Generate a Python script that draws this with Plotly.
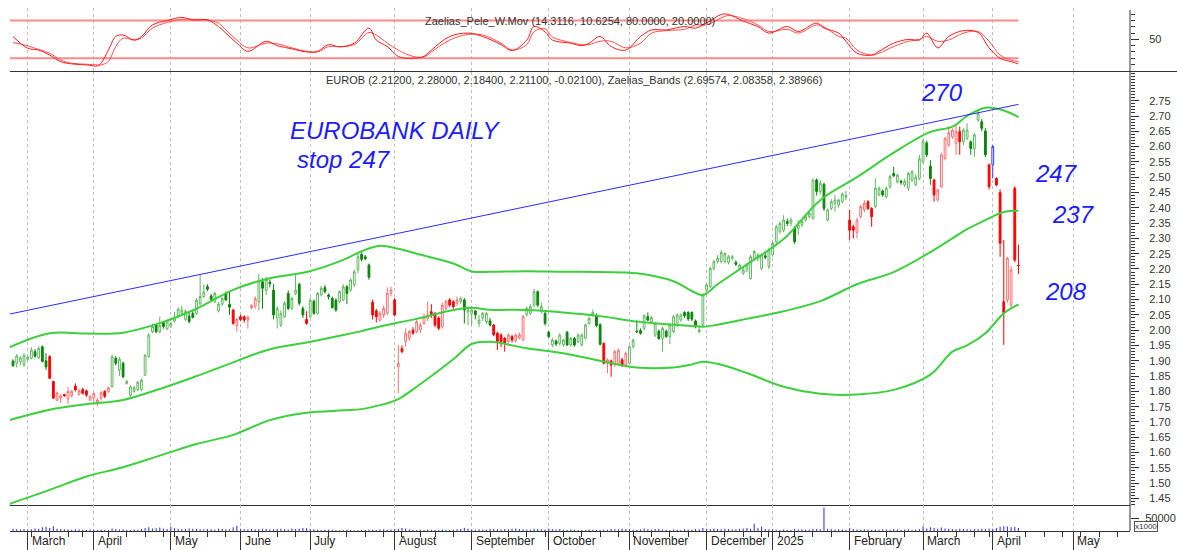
import pandas as pd
import plotly.graph_objects as go

# ---------------- calendar ----------------
first_day = "2024-02-26"
last_day = "2025-04-10"
future_end = "2025-06-30"
closed_days = ["2024-03-18", "2024-03-25", "2024-03-29", "2024-04-01", "2024-05-01",
               "2024-05-03", "2024-05-06", "2024-05-31", "2024-06-24", "2024-08-15",
               "2024-10-28", "2024-12-24", "2024-12-25", "2024-12-26", "2024-12-31",
               "2025-01-01", "2025-01-06", "2025-03-03", "2025-03-25"]
month_names = {1: "2025", 2: "February", 3: "March", 4: "April", 5: "May", 6: "June",
               7: "July", 8: "August", 9: "September", 10: "October",
               11: "November", 12: "December"}

# ---------------- EUROB daily prices ----------------
opens = [
    1.899, 1.892, 1.897, 1.886,
    1.905, 1.908, 1.930, 1.910, 1.946, 1.900, 1.914, 1.832, 1.771, 1.778, 1.790, 1.775, 1.786, 1.817, 1.790, 1.806, 1.802, 1.772,
    1.778, 1.762, 1.778, 1.800, 1.800, 1.816, 1.908, 1.870, 1.892, 1.826, 1.787, 1.800, 1.806, 1.806, 1.853, 1.914, 1.995, 2.017, 1.995, 2.025, 2.005,
    2.012, 2.030, 2.044, 2.055, 2.035, 2.046, 2.055, 2.055, 2.086, 2.110, 2.142, 2.112, 2.093, 2.063, 2.085, 2.120, 2.085, 2.066, 2.015,
    2.044, 2.044, 2.033, 2.073, 2.078, 2.093, 2.158, 2.130, 2.157, 2.131, 2.040, 2.017, 2.044, 2.120, 2.071, 2.120, 2.150, 2.071, 2.035,
    2.044, 2.095, 2.055, 2.115, 2.139, 2.115, 2.104, 2.098, 2.093, 2.099, 2.142, 2.131, 2.148, 2.197, 2.248, 2.240, 2.213, 2.091, 2.063, 2.033, 2.050, 2.055, 2.120,
    2.099, 1.881, 1.940, 1.963, 1.974, 2.000, 1.995, 2.001, 2.022, 2.039, 2.060, 2.055, 2.040, 2.011, 2.071, 2.099, 2.093, 2.088, 2.093, 2.099, 2.060,
    2.055, 2.063, 2.022, 2.040, 2.028, 2.030, 2.017, 1.990, 1.984, 1.973, 1.963, 1.979, 1.965, 1.975, 1.968, 2.050, 2.055, 2.082, 2.126, 2.061, 2.055,
    1.993, 1.952, 1.965, 1.957, 1.952, 1.993, 1.952, 1.973, 1.963, 1.952, 1.974, 2.022, 2.048, 2.048, 2.019, 1.957, 1.892, 1.899, 1.892, 1.892, 1.903, 1.886,
    1.892, 1.946, 1.997, 1.999, 2.006, 2.044, 2.028, 1.984, 1.997, 1.973, 1.997, 1.979, 1.995, 2.017, 2.033, 2.058, 2.058, 2.058, 2.030, 1.995, 2.017,
    2.131, 2.142, 2.202, 2.224, 2.224, 2.224, 2.222, 2.235, 2.222, 2.202, 2.186, 2.197, 2.169, 2.235, 2.235, 2.202, 2.243, 2.208,
    2.246, 2.289, 2.322, 2.327, 2.355, 2.349, 2.333, 2.333, 2.344, 2.360, 2.371, 2.366, 2.491, 2.453, 2.477, 2.360, 2.398, 2.415, 2.409, 2.420, 2.435,
    2.360, 2.338, 2.320, 2.371, 2.393, 2.420, 2.398, 2.404, 2.442, 2.455, 2.436, 2.469, 2.512, 2.485, 2.487, 2.475, 2.464, 2.490, 2.475, 2.496,
    2.550, 2.612, 2.536, 2.491, 2.426, 2.469, 2.562, 2.605, 2.632, 2.611, 2.649, 2.616, 2.627, 2.616, 2.594, 2.687, 2.681, 2.651, 2.540,
    2.540, 2.496, 2.450, 2.093, 2.099, 2.082, 2.464, 2.212,
]
highs = [
    1.905, 1.922, 1.915, 1.925,
    1.917, 1.945, 1.938, 1.948, 1.950, 1.925, 1.918, 1.835, 1.800, 1.790, 1.792, 1.815, 1.805, 1.826, 1.808, 1.812, 1.806, 1.788,
    1.797, 1.778, 1.800, 1.804, 1.816, 1.920, 1.915, 1.912, 1.897, 1.838, 1.820, 1.818, 1.834, 1.842, 1.922, 1.990, 2.022, 2.020, 2.045, 2.030, 2.035,
    2.028, 2.060, 2.075, 2.080, 2.068, 2.060, 2.064, 2.105, 2.180, 2.150, 2.150, 2.118, 2.126, 2.092, 2.110, 2.126, 2.125, 2.070, 2.040,
    2.050, 2.048, 2.048, 2.085, 2.110, 2.185, 2.170, 2.175, 2.165, 2.150, 2.080, 2.065, 2.095, 2.130, 2.110, 2.180, 2.155, 2.078, 2.062,
    2.106, 2.100, 2.125, 2.145, 2.148, 2.120, 2.110, 2.104, 2.130, 2.150, 2.148, 2.170, 2.198, 2.256, 2.255, 2.246, 2.218, 2.100, 2.070, 2.062, 2.080, 2.140, 2.142,
    2.105, 1.952, 1.950, 2.006, 2.000, 2.010, 2.035, 2.025, 2.055, 2.093, 2.085, 2.060, 2.045, 2.090, 2.100, 2.105, 2.098, 2.110, 2.110, 2.105, 2.075,
    2.077, 2.066, 2.050, 2.060, 2.060, 2.040, 2.020, 1.995, 1.990, 1.978, 1.990, 1.985, 1.990, 1.992, 2.050, 2.078, 2.085, 2.135, 2.130, 2.090, 2.060,
    1.998, 1.975, 1.970, 1.990, 1.972, 1.998, 1.978, 1.978, 1.990, 1.990, 2.022, 2.045, 2.068, 2.055, 2.022, 1.960, 1.908, 1.904, 1.936, 1.940, 1.910, 1.930,
    1.950, 1.972, 2.034, 2.006, 2.052, 2.058, 2.047, 2.028, 2.002, 2.012, 2.002, 2.022, 2.050, 2.055, 2.055, 2.062, 2.062, 2.062, 2.035, 2.012, 2.120,
    2.152, 2.208, 2.230, 2.245, 2.262, 2.255, 2.246, 2.246, 2.228, 2.218, 2.205, 2.220, 2.246, 2.262, 2.252, 2.250, 2.252, 2.270,
    2.290, 2.345, 2.356, 2.376, 2.365, 2.368, 2.340, 2.360, 2.362, 2.378, 2.390, 2.496, 2.496, 2.490, 2.482, 2.398, 2.428, 2.442, 2.430, 2.450, 2.455,
    2.393, 2.345, 2.368, 2.410, 2.425, 2.425, 2.402, 2.496, 2.470, 2.460, 2.470, 2.508, 2.534, 2.512, 2.492, 2.495, 2.518, 2.523, 2.510, 2.573,
    2.625, 2.620, 2.556, 2.495, 2.462, 2.580, 2.632, 2.665, 2.660, 2.670, 2.665, 2.660, 2.676, 2.620, 2.645, 2.720, 2.690, 2.660, 2.545,
    2.605, 2.500, 2.460, 2.295, 2.240, 2.210, 2.470, 2.280,
]
lows = [
    1.880, 1.878, 1.885, 1.880,
    1.900, 1.905, 1.910, 1.905, 1.895, 1.870, 1.840, 1.775, 1.768, 1.762, 1.782, 1.758, 1.780, 1.800, 1.786, 1.790, 1.782, 1.768,
    1.765, 1.752, 1.770, 1.778, 1.795, 1.812, 1.885, 1.850, 1.843, 1.822, 1.782, 1.795, 1.800, 1.800, 1.850, 1.910, 1.990, 1.990, 1.990, 2.005, 2.000,
    2.008, 2.025, 2.040, 2.050, 2.030, 2.022, 2.038, 2.050, 2.082, 2.105, 2.128, 2.095, 2.088, 2.058, 2.080, 2.095, 2.050, 2.018, 1.995,
    2.030, 2.025, 2.005, 2.068, 2.070, 2.065, 2.070, 2.115, 2.140, 2.035, 2.006, 2.010, 2.040, 2.065, 2.065, 2.115, 2.080, 2.040, 2.018,
    2.040, 2.050, 2.050, 2.110, 2.120, 2.100, 2.070, 2.060, 2.088, 2.095, 2.085, 2.125, 2.140, 2.186, 2.225, 2.228, 2.165, 2.035, 2.025, 2.028, 2.040, 2.050, 2.110,
    2.045, 1.794, 1.925, 1.946, 1.965, 1.985, 1.990, 1.990, 2.018, 2.030, 2.040, 2.010, 2.000, 2.005, 2.065, 2.075, 2.070, 2.080, 2.085, 2.022, 2.017,
    2.017, 2.035, 2.010, 2.030, 2.020, 2.012, 1.980, 1.935, 1.945, 1.930, 1.955, 1.960, 1.960, 1.970, 1.965, 2.045, 2.050, 2.075, 2.075, 2.055, 2.015,
    1.975, 1.945, 1.948, 1.950, 1.946, 1.948, 1.946, 1.946, 1.958, 1.946, 1.970, 2.018, 2.044, 2.010, 1.950, 1.888, 1.859, 1.848, 1.880, 1.886, 1.880, 1.880,
    1.888, 1.940, 1.990, 1.985, 2.000, 2.028, 2.022, 1.978, 1.968, 1.930, 1.975, 1.955, 1.990, 2.010, 2.028, 2.040, 2.030, 2.030, 2.006, 1.990, 2.012,
    2.125, 2.138, 2.195, 2.218, 2.218, 2.218, 2.215, 2.228, 2.210, 2.198, 2.180, 2.190, 2.165, 2.230, 2.225, 2.195, 2.232, 2.200,
    2.240, 2.282, 2.315, 2.320, 2.340, 2.340, 2.282, 2.311, 2.338, 2.355, 2.365, 2.360, 2.440, 2.445, 2.390, 2.355, 2.392, 2.387, 2.400, 2.415, 2.425,
    2.295, 2.300, 2.300, 2.365, 2.385, 2.393, 2.338, 2.398, 2.438, 2.436, 2.430, 2.462, 2.500, 2.480, 2.475, 2.468, 2.455, 2.485, 2.470, 2.490,
    2.545, 2.565, 2.475, 2.420, 2.420, 2.465, 2.555, 2.600, 2.625, 2.573, 2.573, 2.605, 2.620, 2.573, 2.567, 2.680, 2.650, 2.565, 2.460,
    2.496, 2.470, 2.240, 1.952, 2.090, 2.075, 2.222, 2.184,
]
closes = [
    1.884, 1.916, 1.910, 1.918,
    1.912, 1.935, 1.915, 1.940, 1.898, 1.880, 1.843, 1.778, 1.795, 1.785, 1.786, 1.800, 1.800, 1.805, 1.802, 1.794, 1.788, 1.783,
    1.793, 1.772, 1.796, 1.784, 1.812, 1.913, 1.892, 1.905, 1.848, 1.832, 1.815, 1.812, 1.830, 1.837, 1.918, 1.984, 2.012, 1.995, 2.015, 2.012, 2.030,
    2.022, 2.040, 2.068, 2.066, 2.062, 2.028, 2.042, 2.098, 2.110, 2.125, 2.134, 2.101, 2.120, 2.085, 2.104, 2.099, 2.075, 2.022, 2.035,
    2.035, 2.033, 2.042, 2.080, 2.104, 2.164, 2.137, 2.165, 2.152, 2.050, 2.071, 2.055, 2.088, 2.071, 2.104, 2.131, 2.088, 2.050, 2.022,
    2.098, 2.055, 2.120, 2.137, 2.126, 2.110, 2.074, 2.066, 2.126, 2.142, 2.120, 2.164, 2.191, 2.240, 2.232, 2.234, 2.173, 2.050, 2.044, 2.055, 2.071, 2.120, 2.131,
    2.050, 1.892, 1.930, 1.990, 1.996, 1.990, 2.028, 2.017, 2.044, 2.050, 2.048, 2.017, 2.006, 2.082, 2.093, 2.082, 2.077, 2.099, 2.104, 2.066, 2.066,
    2.066, 2.050, 2.033, 2.055, 2.055, 2.017, 1.985, 1.963, 1.963, 1.957, 1.984, 1.968, 1.984, 1.985, 2.044, 2.071, 2.077, 2.126, 2.082, 2.077, 2.022,
    1.979, 1.968, 1.955, 1.984, 1.968, 1.952, 1.973, 1.952, 1.984, 1.984, 2.017, 2.039, 2.058, 2.015, 1.954, 1.892, 1.903, 1.886, 1.930, 1.935, 1.886, 1.925,
    1.946, 1.968, 1.995, 1.990, 2.047, 2.033, 2.041, 2.022, 1.973, 2.006, 1.979, 2.017, 2.044, 2.050, 2.050, 2.047, 2.037, 2.036, 2.011, 2.001, 2.115,
    2.148, 2.202, 2.224, 2.235, 2.254, 2.250, 2.240, 2.240, 2.215, 2.213, 2.197, 2.213, 2.240, 2.257, 2.246, 2.246, 2.238, 2.262,
    2.284, 2.338, 2.349, 2.360, 2.349, 2.360, 2.289, 2.344, 2.355, 2.371, 2.382, 2.491, 2.453, 2.480, 2.398, 2.393, 2.420, 2.426, 2.425, 2.445, 2.440,
    2.327, 2.327, 2.360, 2.404, 2.415, 2.398, 2.371, 2.464, 2.464, 2.442, 2.464, 2.502, 2.505, 2.507, 2.483, 2.487, 2.512, 2.518, 2.500, 2.560,
    2.616, 2.573, 2.496, 2.442, 2.458, 2.573, 2.627, 2.645, 2.654, 2.649, 2.616, 2.654, 2.654, 2.594, 2.638, 2.709, 2.660, 2.573, 2.469,
    2.600, 2.475, 2.284, 2.058, 2.235, 2.197, 2.229, 2.211,
]
# candle colour state of the indicator: G = green, R = red, B = blue
regime = ("GGGG" + "GGGGGG" + "R" * 12 + "RRRRR" + "G" * 16 + "G" * 17 + "RR"
          + "RRRRR" + "G" * 13 + "R" + "G" * 17 + "R" * 6 + "R" * 18 + "GGG"
          + "G" * 6 + "R" * 9 + "G" * 6 + "G" * 15 + "R" * 7 + "G" * 21 + "G" * 18
          + "G" * 21 + "R" * 7 + "G" * 13 + "GGG" + "R" * 8 + "G" * 7 + "R"
          + "B" + "R" * 7)
# volume in millions of shares
volume_mln = [
    9, 7, 6, 8,
    5, 7, 10, 9, 14, 16, 12, 18, 9, 8, 7, 6, 5, 7, 6, 5, 4, 6,
    5, 4, 6, 5, 4, 10, 8, 6, 7, 5, 4, 6, 5, 8, 12, 14, 10, 11, 13, 9, 8,
    16, 11, 9, 7, 8, 10, 9, 8, 7, 6, 8, 7, 6, 9, 8, 7, 6, 14, 20,
    9, 7, 6, 8, 6, 7, 9, 8, 6, 7, 8, 9, 7, 6, 10, 8, 9, 12, 11,
    8, 7, 5, 4, 5, 6, 5, 4, 3, 4, 5, 4, 3, 4, 5, 4, 6, 5, 4, 6, 7, 5, 6,
    8, 9, 12, 10, 6, 5, 4, 5, 4, 6, 5, 4, 5, 6, 5, 4, 6, 7, 8, 12, 9,
    6, 5, 7, 6, 5, 8, 9, 7, 6, 8, 7, 9, 10, 8, 7, 6, 5, 9, 8, 7, 6,
    10, 7, 6, 8, 5, 4, 6, 5, 4, 5, 4, 6, 5, 4, 5, 6, 5, 8, 7, 6, 9, 8,
    6, 5, 4, 6, 10, 7, 5, 8, 9, 6, 5, 4, 6, 5, 4, 7, 6, 5, 8, 7, 12,
    9, 8, 10, 8, 7, 9, 8, 6, 7, 9, 10, 12, 9, 28, 11, 17, 8, 7,
    6, 5, 4, 6, 5, 4, 8, 6, 7, 5, 6, 9, 8, 7, 90, 9, 8, 6, 7, 6, 5,
    12, 8, 6, 5, 7, 6, 5, 6, 5, 7, 6, 5, 8, 6, 5, 6, 7, 5, 6, 8,
    18, 10, 14, 12, 9, 13, 10, 9, 8, 7, 9, 8, 7, 6, 8, 7, 9, 8, 10,
    9, 12, 16, 18, 17, 14, 16, 12,
]

# ---------------- Zaelias_Bands (sampled at bar numbers) ----------------
band_idx = [-1, 10, 20, 30, 40, 50, 60, 70, 80, 90, 95, 100, 105, 110, 120, 125, 130, 140,
            150, 160, 170, 180, 185, 188, 192, 200, 210, 220, 230, 240, 250, 256, 260, 265, 270, 274]
band_upper = [1.944, 1.990, 1.989, 1.992, 2.023, 2.070, 2.132, 2.170, 2.190, 2.230, 2.258, 2.276,
              2.266, 2.250, 2.218, 2.192, 2.191, 2.193, 2.191, 2.190, 2.186, 2.160, 2.128, 2.115,
              2.150, 2.215, 2.298, 2.425, 2.500, 2.580, 2.648, 2.665, 2.700, 2.727, 2.718, 2.696]
band_mid = [1.706, 1.740, 1.758, 1.772, 1.808, 1.850, 1.895, 1.938, 1.960, 1.984, 1.997, 2.012,
            2.025, 2.037, 2.066, 2.073, 2.067, 2.066, 2.058, 2.046, 2.028, 2.018, 2.014, 2.011,
            2.018, 2.037, 2.062, 2.095, 2.150, 2.190, 2.255, 2.300, 2.330, 2.360, 2.386, 2.390]
band_lower = [1.432, 1.478, 1.522, 1.552, 1.590, 1.628, 1.658, 1.706, 1.730, 1.738, 1.742, 1.755,
              1.775, 1.815, 1.905, 1.955, 1.962, 1.941, 1.925, 1.900, 1.878, 1.878, 1.888, 1.897,
              1.890, 1.860, 1.815, 1.792, 1.790, 1.805, 1.855, 1.930, 1.950, 1.990, 2.055, 2.084]

# trend line (value at left edge, value at last bar)
trend_vals = [2.053, 2.738]

# ---------------- Zaelias_Pele_W.Mov oscillator ----------------
osc_idx = [0, 4, 7, 10, 13, 16, 20, 23, 24, 26, 28, 30, 33, 35, 38, 42, 46, 49, 53, 56, 58, 61,
           64, 69, 72, 76, 80, 83, 86, 89, 93, 97, 99, 102, 105, 109, 112, 114, 119, 124, 128,
           133, 136, 140, 142, 145, 147, 152, 155, 157, 160, 163, 167, 171, 174, 178, 183, 186,
           189, 193, 195, 199, 203, 206, 211, 214, 219, 221, 225, 227, 230, 234, 236, 240, 244,
           247, 249, 252, 255, 259, 263, 266, 269, 272, 274]
osc_fast = [54.6, 35.9, 33, 25, 14.5, 11, 9.4, 7.8, 12, 33, 54.6, 57, 49, 54.6, 73, 80, 85, 81,
            81, 70.5, 60, 44, 31, 47, 40, 35, 30, 31, 41.7, 38, 44, 68, 49, 38.6, 22.7, 20, 23,
            33, 54.6, 60, 54.6, 41.7, 32.2, 49, 70.5, 62, 49, 44, 40, 44, 54.6, 38.6, 33, 54.6,
            65, 65, 70.5, 68, 76, 89.7, 89.7, 79, 70.5, 60, 70.5, 62.5, 76, 68, 60, 47, 28, 25,
            31, 44, 50, 49, 60, 36.5, 54.6, 64, 61, 36.5, 20, 14.5, 11]
osc_slow = [45, 39.8, 34, 28, 17, 12, 10.5, 9.4, 9.4, 15, 38.6, 52, 49, 52, 68, 77, 82, 82, 81,
            76, 65, 49, 36.5, 44, 43, 36.5, 31, 30, 38.6, 38.6, 41.7, 61, 57, 44, 33, 23, 22, 30,
            49, 58, 57, 44, 33, 41.7, 62.5, 67, 54, 45, 41.7, 41.7, 47, 47, 36.5, 44, 60, 64, 66,
            73, 73, 84.3, 88, 83, 73, 62.5, 66, 60, 73, 70, 54.6, 52, 33, 25, 28, 38.6, 47, 50,
            54.6, 47, 49, 60, 62.5, 47, 25, 17, 14.5]
osc_levels = [80, 20]

osc_title = "Zaelias_Pele_W.Mov (14.3116, 10.6254, 80.0000, 20.0000)"
price_title = ("EUROB (2.21200, 2.28000, 2.18400, 2.21100, -0.02100), "
               "Zaelias_Bands (2.69574, 2.08358, 2.38966)")
notes = ["EUROBANK DAILY", "stop 247", "270", "247", "237", "208"]

# ---------------- derived positions ----------------
closed = set(closed_days)
dates = [d for d in pd.bdate_range(first_day, last_day) if d.strftime("%Y-%m-%d") not in closed]
future = list(pd.bdate_range(pd.Timestamp(last_day) + pd.Timedelta(days=1), future_end))
all_dates = dates + future
n = len(dates)
assert n == len(opens) == len(highs) == len(lows) == len(closes) == len(regime) == len(volume_mln), \
    (n, len(opens), len(highs), len(lows), len(closes), len(regime), len(volume_mln))

x_lo, x_hi = -0.82, 304.4
month_idx, month_txt, week_idx = [], [], []
for i in range(1, len(all_dates)):
    if all_dates[i].month != all_dates[i - 1].month and i <= x_hi:
        month_idx.append(i)
        month_txt.append(month_names[all_dates[i].month])
    if all_dates[i].isocalendar()[1] != all_dates[i - 1].isocalendar()[1] and i <= x_hi:
        week_idx.append(i)

# pixel helpers for the layout (plot area 10..1130 x 8..531)
def px_x(px):
    return (px - 10) / 1120.0


def px_y(py):
    return (531 - py) / 523.0


osc_dom = [px_y(70.8), 1.0]
main_dom = [px_y(505), px_y(72)]
vol_dom = [0.0, px_y(505)]

fig = go.Figure()

# ---- oscillator panel ----
for lv in osc_levels:
    fig.add_trace(go.Scatter(x=[x_lo, n - 1], y=[lv, lv], mode="lines",
                             line=dict(color="#ff8a8a", width=2), xaxis="x", yaxis="y",
                             hoverinfo="skip"))
fig.add_trace(go.Scatter(x=osc_idx, y=osc_slow, mode="lines", line=dict(color="#ff5050", width=1),
                         line_shape="spline", xaxis="x", yaxis="y", hoverinfo="skip"))
fig.add_trace(go.Scatter(x=osc_idx, y=osc_fast, mode="lines", line=dict(color="#ff1a1a", width=1),
                         line_shape="spline", xaxis="x", yaxis="y", hoverinfo="skip"))

# ---- candles ----
styles = {
    "G": (("#62b862", "white"), ("#0b850b", "#0b850b")),
    "R": (("#ff7070", "white"), ("#ff0000", "#ff0000")),
    "B": (("#3a3aff", "white"), ("#3a3aff", "#3a3aff")),
}
for code, ((inc_c, inc_f), (dec_c, dec_f)) in styles.items():
    sel = [i for i in range(n) if regime[i] == code]
    fig.add_trace(go.Candlestick(
        x=sel, open=[opens[i] for i in sel], high=[highs[i] for i in sel],
        low=[lows[i] for i in sel], close=[closes[i] for i in sel],
        increasing=dict(line=dict(color=inc_c, width=1), fillcolor=inc_f),
        decreasing=dict(line=dict(color=dec_c, width=1), fillcolor=dec_f),
        whiskerwidth=0, xaxis="x2", yaxis="y2", hoverinfo="skip"))

# ---- bands & trend ----
for vals in (band_upper, band_mid, band_lower):
    fig.add_trace(go.Scatter(x=band_idx, y=vals, mode="lines", line=dict(color="#3ecf3e", width=2),
                             line_shape="spline", xaxis="x2", yaxis="y2", hoverinfo="skip"))
fig.add_trace(go.Scatter(x=[x_lo, n - 1], y=trend_vals, mode="lines",
                         line=dict(color="#2a2aff", width=1), xaxis="x2", yaxis="y2",
                         hoverinfo="skip"))

# ---- volume ----
fig.add_trace(go.Bar(x=list(range(n)), y=[v * 1000 for v in volume_mln], width=0.3,
                     marker=dict(color="#3c3cff", line=dict(width=0)), xaxis="x3", yaxis="y3",
                     hoverinfo="skip"))

xcommon = dict(range=[x_lo, x_hi], showgrid=True, gridcolor="#bdbdbd", griddash="3px,3px",
               gridwidth=1, tickmode="array", tickvals=month_idx, showticklabels=False,
               zeroline=False, rangeslider=dict(visible=False), fixedrange=True, automargin=False)
tickfont = dict(family="Liberation Sans, Arial, sans-serif", size=11, color="#333")

price_ticks = [round(1.45 + 0.05 * k, 2) for k in range(27)]
price_minor = [round(1.43 + 0.01 * k, 2) for k in range(142)]

fig.update_layout(
    width=1177, height=550, margin=dict(l=10, r=47, t=8, b=19, autoexpand=False),
    paper_bgcolor="white", plot_bgcolor="white", showlegend=False, hovermode=False,
    font=tickfont,
    xaxis=dict(xcommon, anchor="y", ticks=""),
    xaxis2=dict(xcommon, anchor="y2", ticks="", showline=True, linecolor="#333", linewidth=1),
    xaxis3=dict(xcommon, anchor="y3", ticks="outside", ticklen=19, tickcolor="#333",
                showline=True, linecolor="#333", linewidth=1,
                minor=dict(tickvals=week_idx, ticks="outside", ticklen=5, tickcolor="#333",
                           showgrid=False)),
    yaxis=dict(domain=osc_dom, anchor="x", side="right", range=[0, 100], tickmode="array",
               tickvals=[50], ticks="outside", ticklen=8, tickcolor="#333", showgrid=False,
               zeroline=False, ticklabelstandoff=8, tickfont=tickfont, fixedrange=True,
               automargin=False,
               minor=dict(tickvals=[10, 20, 30, 40, 60, 70, 80, 90], ticks="outside", ticklen=4,
                          tickcolor="#333")),
    yaxis2=dict(domain=main_dom, anchor="x2", side="right", range=[1.4287, 2.8438],
                tickmode="array", tickvals=price_ticks, ticktext=[f"{v:.2f}" for v in price_ticks],
                ticks="outside", ticklen=8, tickcolor="#333", showgrid=False, zeroline=False,
                ticklabelstandoff=8, tickfont=tickfont, fixedrange=True, automargin=False,
                minor=dict(tickvals=price_minor, ticks="outside", ticklen=4, tickcolor="#333")),
    yaxis3=dict(domain=vol_dom, anchor="x3", side="right", range=[0, 100000], tickmode="array",
                tickvals=[50000], ticktext=["50000"], ticks="outside", ticklen=8,
                tickcolor="#333", showgrid=False, zeroline=False, ticklabelstandoff=4,
                tickfont=tickfont, fixedrange=True, automargin=False),
)

shapes = [
    dict(type="line", xref="paper", yref="paper", x0=1, x1=1, y0=0, y1=px_y(10),
         line=dict(color="#333", width=1)),
    dict(type="line", xref="paper", yref="paper", x0=0, x1=px_x(1177), y0=px_y(71.5),
         y1=px_y(71.5), line=dict(color="#333", width=1)),
]
fig.update_layout(shapes=shapes)

ann = []
for i, t in zip(month_idx, month_txt):
    ann.append(dict(x=i, xref="x3", y=px_y(541), yref="paper", text=t, showarrow=False,
                    xanchor="left", yanchor="middle", xshift=2,
                    font=dict(family="Liberation Sans, Arial", size=12, color="#222")))
ann.append(dict(x=px_x(570), y=px_y(20.5), xref="paper", yref="paper", text=osc_title,
                showarrow=False, xanchor="center", yanchor="middle", font=tickfont))
ann.append(dict(x=px_x(574), y=px_y(80), xref="paper", yref="paper", text=price_title,
                showarrow=False, xanchor="center", yanchor="middle", font=tickfont))
ann.append(dict(x=px_x(1134), y=px_y(526), xref="paper", yref="paper", text="x1000",
                showarrow=False, xanchor="left", yanchor="middle",
                font=dict(family="Liberation Sans, Arial", size=8, color="#333"),
                bordercolor="#555", borderwidth=1, borderpad=0))
hand = dict(family="Liberation Sans, Arial", size=24, color="#1c1cff", style="italic")
note_pos = [(395, 130, "center"), (295, 160, "left"), (942, 92, "center"),
            (1056, 174, "center"), (1073, 214, "center"), (1066, 291, "center")]
for t, (px, py, anc) in zip(notes, note_pos):
    ann.append(dict(x=px_x(px), y=px_y(py), xref="paper", yref="paper", text=t, showarrow=False,
                    xanchor=anc, yanchor="middle", font=hand))
fig.update_layout(annotations=ann)

fig.write_html("out.html", config={"displayModeBar": False, "staticPlot": True},
               post_script="document.body.style.margin='0px';document.body.style.overflow='hidden';")
